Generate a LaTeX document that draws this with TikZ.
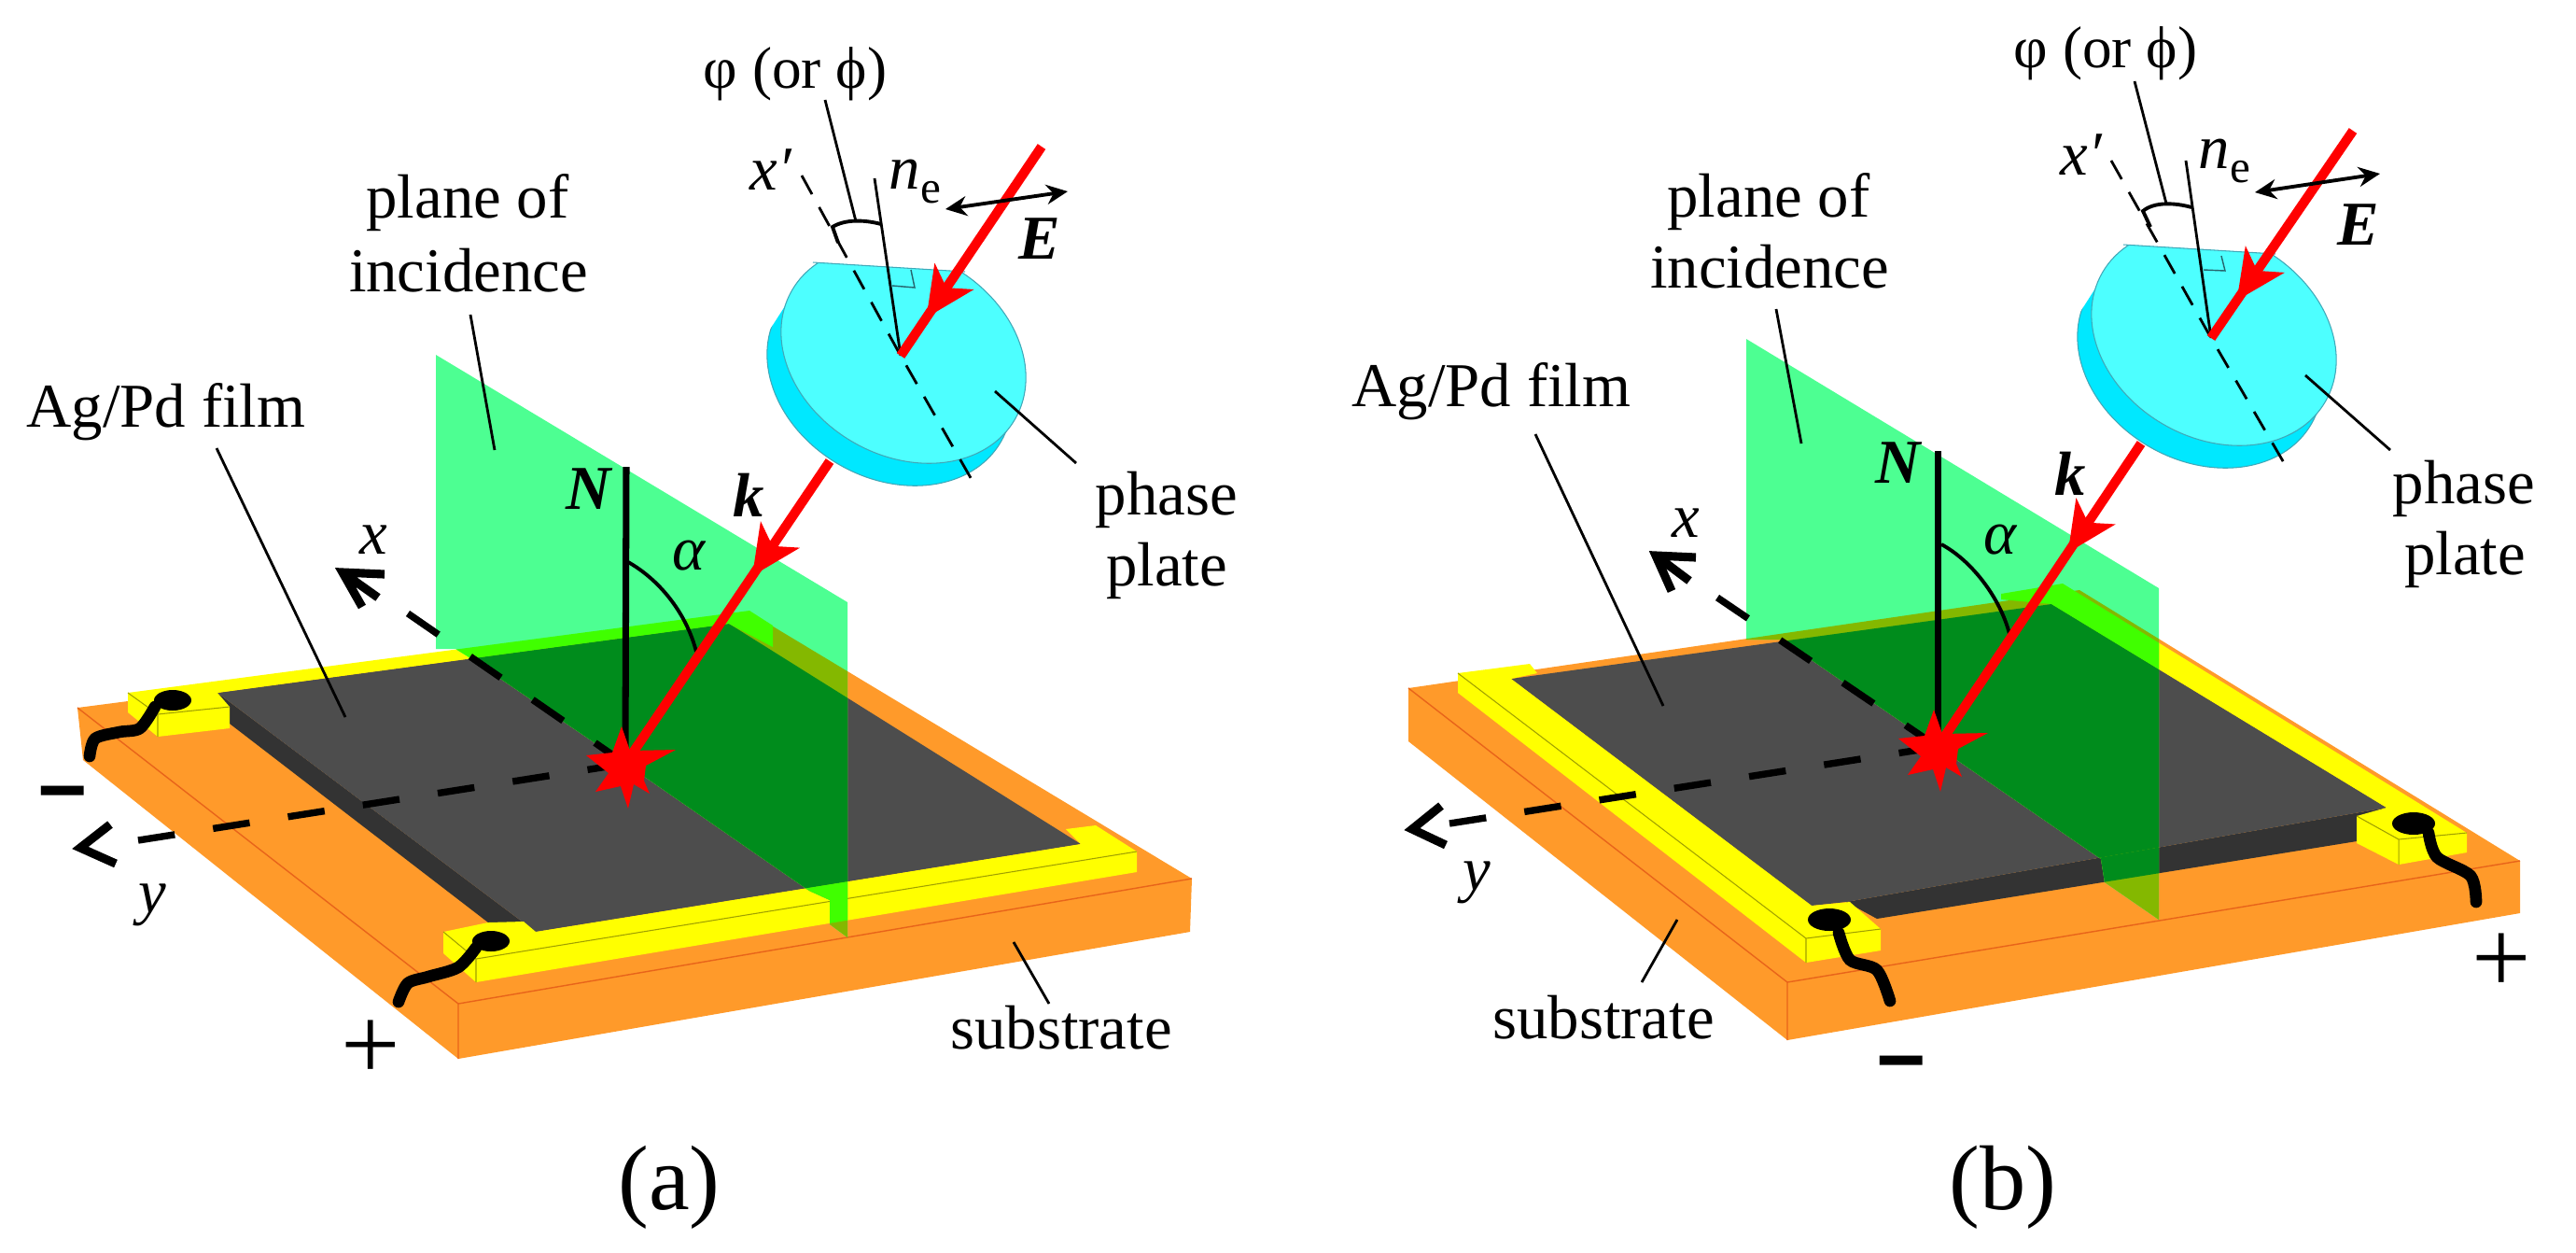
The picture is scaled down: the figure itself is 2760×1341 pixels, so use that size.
\documentclass[tikz,border=0pt]{standalone}
\usepackage{fontspec}
\setmainfont{Liberation Serif}
\newfontfamily\signfont{Liberation Sans}
\usetikzlibrary{arrows.meta,decorations.markings}

\definecolor{substrateorange}{HTML}{FF9A2A}
\definecolor{edgeorange}{HTML}{E8641A}
\definecolor{tabyellow}{HTML}{FFFF00}
\definecolor{edgeyellow}{HTML}{A0A000}
\definecolor{filmgrey}{HTML}{4D4D4D}
\definecolor{filmside}{HTML}{333333}
\definecolor{planegreen}{HTML}{4DFF92}
\definecolor{tintfilm}{HTML}{008C1C}
\definecolor{tintyellow}{HTML}{40FF00}
\definecolor{tintorange}{HTML}{84B800}
\definecolor{platecyan}{HTML}{4DFFFF}
\definecolor{plateside}{HTML}{00E8FF}
\definecolor{plateedge}{HTML}{40A8B8}
\definecolor{rayred}{HTML}{FF0000}

\tikzset{
	lab/.style={font=\fontsize{19}{22}\selectfont, inner sep=0pt, anchor=base},
	bigsign/.style={font=\signfont\bfseries\fontsize{26}{26}\selectfont, inner sep=0pt},
	plussign/.style={font=\fontsize{32}{32}\selectfont, inner sep=0pt},
	caption/.style={font=\fontsize{28}{30}\selectfont, inner sep=0pt, anchor=base},
	leader/.style={line width=0.8pt},
	wire/.style={line width=3.6pt, line cap=round},
	axisline/.style={line width=2.1pt, dash pattern=on 11.3pt off 11.8pt},
	axishead/.style={line width=2.6pt, line join=miter},
	normalline/.style={line width=2pt},
	anglearc/.style={line width=1.1pt},
	lightdash/.style={line width=0.8pt, dash pattern=on 6.5pt off 4.5pt},
	rayline/.style={rayred, line width=2.9pt},
	rayhead/.style={decoration={markings, mark=at position #1 with {\arrow{Stealth[length=15pt,width=14pt,inset=4pt]}}}, postaction={decorate}},
	polarrow/.style={{Stealth[length=6.5pt,width=6pt]}-{Stealth[length=6.5pt,width=6pt]}, line width=1.1pt}
}

% red burst where the ray hits the film
\newcommand{\burst}[1]{\fill[rayred,shift={(#1)}] (-4,-40) -- (5,-14) -- (54,-15) -- (22,2) -- (20,18) -- (26,32) -- (9,22) -- (3,48) -- (-5,24) -- (-32,30) -- (-18,10) -- (-42,-9) -- (-14,-12) -- cycle;}

% the plate, cut flat at the top, around the point where the ray meets it
\newcommand{\phaseplate}[1]{
	\begin{scope}[shift={(#1)}]
		\begin{scope}
			\clip (-94,-100) -- (300,-76) -- (300,300) -- (-300,300) -- (-190,50) -- cycle;
			\fill[plateside,draw=plateedge,line width=0.3pt,rotate around={-30:(-12,23)}] (-12,23) ellipse (138 and 108);
		\end{scope}
		\begin{scope}
			\clip (-300,-113) -- (300,-76) -- (300,300) -- (-300,300) -- cycle;
			\fill[platecyan,draw=plateedge,line width=0.3pt,rotate around={-30:(3,-1)}] (3,-1) ellipse (138 and 108);
		\end{scope}
		\draw[plateedge,line width=0.3pt] (-94,-100) -- (69,-90);
	\end{scope}
}

% args: orange, yellow, film, film side, orange edge, yellow edge
\newcommand{\boardA}[6]{
	\fill[#1] (83,758) -- (815,663) -- (1277,941) -- (1275,998) -- (491,1134) -- (89,814) -- cycle;
	\draw[#5,line width=0.4pt] (83,758) -- (491,1075) -- (1277,941) (491,1075) -- (491,1134);
	\fill[#4] (233,742) -- (574,998) -- (523,988) -- (246,775) -- cycle;
	\fill[#3] (233,742) -- (781,668) -- (1158,904) -- (574,998) -- cycle;
	\fill[#2] (137,742) -- (803,654) -- (828,670) -- (828,693) -- (781,668) -- (233,742) -- (246,757) -- (246,780) -- (169,789) -- (137,763) -- cycle;
	\draw[#6,line width=0.3pt] (137,742) -- (169,765) -- (246,757) (169,765) -- (169,789);
	\fill[#2] (475,998) -- (523,988) -- (561,987) -- (574,998) -- (1158,904) -- (1142,888) -- (1174,884) -- (1218,912) -- (1218,934) -- (510,1052) -- (475,1021) -- cycle;
	\draw[#6,line width=0.3pt] (475,998) -- (510,1027) -- (1218,912) (510,1027) -- (510,1052);
}
\newcommand{\boardB}[6]{
	\fill[#1] (1509,737) -- (2228,632) -- (2700,922) -- (2700,978) -- (1915,1114) -- (1509,794) -- cycle;
	\draw[#5,line width=0.4pt] (1509,737) -- (1915,1052) -- (2700,922) (1915,1052) -- (1915,1114);
	\fill[#4] (1978,966) -- (2557,865) -- (2525,901) -- (2011,984) -- cycle;
	\fill[#3] (1619,727) -- (2198,647) -- (2557,865) -- (1978,966) -- (1941,970) -- cycle;
	\fill[#2] (1562,721) -- (1639,711) -- (1647,721) -- (1619,727) -- (1941,970) -- (1982,966) -- (2015,995) -- (2015,1018) -- (1935,1031) -- (1562,742) -- cycle;
	\draw[#6,line width=0.3pt] (1562,721) -- (1935,1005) -- (2015,995) (1935,1005) -- (1935,1031);
	\fill[#2] (2144,636) -- (2210,625) -- (2643,892) -- (2643,913) -- (2570,926) -- (2525,903) -- (2525,874) -- (2557,865) -- (2198,647) -- (2144,642) -- cycle;
	\draw[#6,line width=0.3pt] (2525,874) -- (2570,899) -- (2643,892) (2570,899) -- (2570,926);
}

\begin{document}
\begin{tikzpicture}[x=0.01cm,y=-0.01cm]
	\useasboundingbox (0,0) rectangle (2760,1341);

	% panel (a)
	\boardA{substrateorange}{tabyellow}{filmgrey}{filmside}{edgeorange}{edgeyellow}
	% plane of incidence in front of the board
	\fill[planegreen] (467,380) -- (908,645) -- (908,1004) -- (889,990) -- (889,964) -- (867,954) -- (698,837) -- (501,703) -- (488,695) -- (467,695) -- cycle;
	\begin{scope}
		\clip (467,380) -- (908,645) -- (908,1004) -- (889,990) -- (889,964) -- (867,954) -- (698,837) -- (501,703) -- (488,695) -- (467,695) -- cycle;
		\boardA{tintorange}{tintyellow}{tintfilm}{tintfilm}{tintorange}{tintyellow}
	\end{scope}

	\coordinate (hitA) at (670,818);
	\coordinate (plateA) at (965,381);

	% axes
	\draw[axisline] (437,657) -- (hitA);
	\draw[axishead] (412,615) -- (367,613) -- (388,650) (367,613) -- (405,640);
	\draw[axisline] (148,900) -- (hitA);
	\draw[axishead] (118,883) -- (86,908) -- (124,925);
	\draw[normalline] (671,500) -- (hitA);
	\draw[anglearc] (673,602) .. controls (705,620) and (735,655) .. (746,698);

	% wires
	\fill (185,750) ellipse (20 and 11);
	\draw[wire] plot[smooth] coordinates {(166,757) (150,780) (128,784) (102,791) (96,810)};
	\fill (526,1008) ellipse (20 and 11);
	\draw[wire] plot[smooth] coordinates {(510,1015) (491,1036) (459,1046) (437,1053) (427,1073)};

	% ray below the plate, then the plate
	\draw[rayline,rayhead=0.38] (889,494) -- (hitA);
	\burst{hitA}
	\phaseplate{plateA}

	\draw[lightdash] (859,188) -- (plateA) -- (1043,517);
	\draw[leader] (937,191) -- (plateA);
	\draw[leader] (884,107) -- (917,237);
	\draw[anglearc] (944,240) .. controls (925,235) and (905,235) .. (892,243) -- (898,260);
	\draw[plateedge!60!black,line width=0.4pt] (956,306) -- (980,308) -- (976,289);
	\draw[rayline,rayhead=0.82] (1116,157) -- (plateA);
	\draw[polarrow] (1013,224) -- (1144,205);

	% leaders and labels
	\draw[leader] (232,480) -- (370,768);
	\draw[leader] (504,337) -- (530,482);
	\draw[leader] (1066,419) -- (1153,496);
	\draw[leader] (1086,1009) -- (1124,1075);

	\node[lab,font=\fontsize{18}{22}\selectfont] (phiA) at (852,94) {φ (or ϕ)};
	\node[lab,anchor=base west] (xprimeA) at (803,203) {\itshape x′};
	\node[lab,anchor=base west] (neA) at (952,202) {\itshape n\raisebox{-4.5pt}{\upshape\fontsize{14}{14}\selectfont e}};
	\node[lab] (eA) at (1114,277) {\bfseries\itshape E};
	\node[lab] (kA) at (802,553) {\bfseries\itshape k};
	\node[lab] (nA) at (631,545) {\bfseries\itshape N};
	\node[lab] (alphaA) at (738,610) {\itshape α};
	\node[lab] (xA) at (400,593) {\itshape x};
	\node[lab] (yA) at (163,977) {\itshape y};
	\node[lab] (filmA) at (178,457) {Ag/Pd film};
	\node[lab] (planeoneA) at (501,233) {plane of};
	\node[lab] (planetwoA) at (502,312) {incidence};
	\node[lab] (phaseA) at (1250,551) {phase};
	\node[lab] (plateLabA) at (1250,627) {plate};
	\node[lab] (subA) at (1137,1123) {substrate};
	\node[bigsign] (minusA) at (67,860) {−};
	\node[plussign] (plusA) at (397,1125) {+};
	\node[caption] (capA) at (717,1295) {(a)};

	% panel (b)
	\boardB{substrateorange}{tabyellow}{filmgrey}{filmside}{edgeorange}{edgeyellow}
	\fill[planegreen] (1871,363) -- (2313,630) -- (2313,985) -- (2255,945) -- (2251,920) -- (2104,819) -- (1909,685) -- (1871,685) -- cycle;
	\begin{scope}
		\clip (1871,363) -- (2313,630) -- (2313,985) -- (2255,945) -- (2251,920) -- (2104,819) -- (1909,685) -- (1871,685) -- cycle;
		\boardB{tintorange}{tintyellow}{tintfilm}{tintfilm}{tintorange}{tintyellow}
	\end{scope}

	\coordinate (hitB) at (2076,800);
	\coordinate (plateB) at (2369,362);

	\draw[axisline] (1840,640) -- (hitB);
	\draw[axishead] (1817,597) -- (1774,595) -- (1791,633) (1774,595) -- (1810,622);
	\draw[axisline] (1553,882) -- (hitB);
	\draw[axishead] (1544,863) -- (1513,888) -- (1549,905);
	\draw[normalline] (2076,483) -- (hitB);
	\draw[anglearc] (2080,583) .. controls (2112,600) and (2143,640) .. (2153,679);

	\fill (1960,985) ellipse (23 and 12);
	\draw[wire] plot[smooth] coordinates {(1970,999) (1982,1028) (2011,1039) (2025,1072)};
	\fill (2586,882) ellipse (23 and 12);
	\draw[wire] plot[smooth] coordinates {(2602,892) (2611,918) (2647,938) (2653,966)};

	\draw[rayline,rayhead=0.36] (2294,475) -- (hitB);
	\burst{hitB}
	\phaseplate{plateB}

	\draw[lightdash] (2262,172) -- (plateB) -- (2449,499);
	\draw[leader] (2342,172) -- (plateB);
	\draw[leader] (2287,87) -- (2321,218);
	\draw[anglearc] (2348,222) .. controls (2330,217) and (2308,216) .. (2296,226) -- (2304,243);
	\draw[plateedge!60!black,line width=0.4pt] (2361,289) -- (2384,290) -- (2380,274);
	\draw[rayline,rayhead=0.82] (2521,140) -- (plateB);
	\draw[polarrow] (2416,206) -- (2550,186);

	\draw[leader] (1645,465) -- (1782,756);
	\draw[leader] (1903,331) -- (1930,475);
	\draw[leader] (2470,402) -- (2561,482);
	\draw[leader] (1797,985) -- (1759,1052);

	\node[lab,font=\fontsize{18}{22}\selectfont] (phiB) at (2256,72) {φ (or ϕ)};
	\node[lab,anchor=base west] (xprimeB) at (2207,187) {\itshape x′};
	\node[lab,anchor=base west] (neB) at (2355,180) {\itshape n\raisebox{-4.5pt}{\upshape\fontsize{14}{14}\selectfont e}};
	\node[lab] (eB) at (2527,262) {\bfseries\itshape E};
	\node[lab] (kB) at (2218,530) {\bfseries\itshape k};
	\node[lab] (nB) at (2034,517) {\bfseries\itshape N};
	\node[lab] (alphaB) at (2143,593) {\itshape α};
	\node[lab] (xB) at (1806,575) {\itshape x};
	\node[lab] (yB) at (1582,953) {\itshape y};
	\node[lab] (filmB) at (1598,435) {Ag/Pd film};
	\node[lab] (planeoneB) at (1895,232) {plane of};
	\node[lab] (planetwoB) at (1896,308) {incidence};
	\node[lab] (phaseB) at (2640,539) {phase};
	\node[lab] (plateLabB) at (2641,615) {plate};
	\node[lab] (subB) at (1718,1112) {substrate};
	\node[bigsign] (minusB) at (2037,1149) {−};
	\node[plussign] (plusB) at (2680,1032) {+};
	\node[caption] (capB) at (2146,1295) {(b)};
\end{tikzpicture}
\end{document}
